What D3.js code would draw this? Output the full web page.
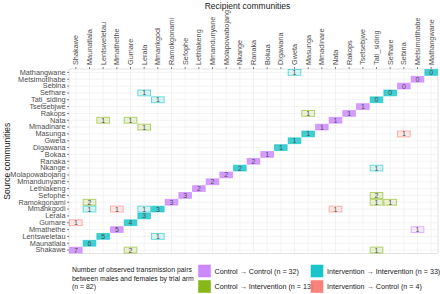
<!DOCTYPE html>
<html>
<head>
<meta charset="utf-8">
<script src="https://cdn.jsdelivr.net/npm/d3@7"></script>
<style>
  body { margin: 0; background: #fff; }
  text { font-family: "Liberation Sans", Arial, sans-serif; }
</style>
</head>
<body>
<script>
// communities in the order of the recipient axis (left to right); source axis is bottom to top
const communities = ['Shakawe', 'Maunatlala', 'Lentsweletau', 'Mmathethe', 'Gumare', 'Lerala',
    'Mmankgodi', 'Ramokgonami', 'Sefophe', 'Lethlakeng', 'Mmandunyane', 'Molapowabojang',
    'Nkange', 'Ranaka', 'Bokaa', 'Digawana', 'Gweta', 'Masunga', 'Mmadinare', 'Nata', 'Rakops',
    'Tsetsebjwe', 'Tati_siding', 'Sefhare', 'Sebina', 'Metsimotlhabe', 'Mathangwane'];

// [source, recipient, count, arm]
const pairs = [
    ['Shakawe', 'Shakawe', 7, 'CC'], ['Maunatlala', 'Maunatlala', 6, 'II'],
    ['Lentsweletau', 'Lentsweletau', 5, 'II'], ['Mmathethe', 'Mmathethe', 5, 'CC'],
    ['Gumare', 'Gumare', 4, 'II'], ['Lerala', 'Lerala', 3, 'II'],
    ['Mmankgodi', 'Mmankgodi', 3, 'II'], ['Ramokgonami', 'Ramokgonami', 3, 'CC'],
    ['Sefophe', 'Sefophe', 3, 'CC'], ['Lethlakeng', 'Lethlakeng', 2, 'CC'],
    ['Mmandunyane', 'Mmandunyane', 2, 'CC'], ['Molapowabojang', 'Molapowabojang', 2, 'CC'],
    ['Nkange', 'Nkange', 2, 'II'], ['Ranaka', 'Ranaka', 2, 'CC'],
    ['Bokaa', 'Bokaa', 1, 'CC'], ['Digawana', 'Digawana', 1, 'II'],
    ['Gweta', 'Gweta', 1, 'II'], ['Masunga', 'Masunga', 1, 'II'],
    ['Mmadinare', 'Mmadinare', 1, 'CC'], ['Nata', 'Nata', 1, 'CC'],
    ['Rakops', 'Rakops', 1, 'CC'], ['Tsetsebjwe', 'Tsetsebjwe', 1, 'CC'],
    ['Tati_siding', 'Tati_siding', 0, 'II'], ['Sefhare', 'Sefhare', 0, 'II'],
    ['Sebina', 'Sebina', 0, 'CC'], ['Metsimotlhabe', 'Metsimotlhabe', 0, 'CC'],
    ['Mathangwane', 'Mathangwane', 0, 'II'],
    // between communities
    ['Mathangwane', 'Gweta', 1, 'II'], ['Sefhare', 'Lerala', 1, 'II'],
    ['Tati_siding', 'Mmankgodi', 1, 'II'], ['Nkange', 'Tati_siding', 1, 'II'],
    ['Mmankgodi', 'Maunatlala', 1, 'II'], ['Mmankgodi', 'Lerala', 1, 'II'],
    ['Lentsweletau', 'Mmankgodi', 1, 'II'],
    ['Mmathethe', 'Metsimotlhabe', 1, 'CC'],
    ['Nata', 'Lentsweletau', 1, 'CI'], ['Nata', 'Gumare', 1, 'CI'],
    ['Mmadinare', 'Lerala', 1, 'CI'], ['Rakops', 'Masunga', 1, 'CI'],
    ['Ramokgonami', 'Maunatlala', 2, 'CI'], ['Sefophe', 'Tati_siding', 2, 'CI'],
    ['Ramokgonami', 'Tati_siding', 1, 'CI'], ['Ramokgonami', 'Sefhare', 1, 'CI'],
    ['Shakawe', 'Gumare', 2, 'CI'], ['Shakawe', 'Tati_siding', 1, 'CI'],
    ['Gumare', 'Shakawe', 1, 'IC'], ['Mmankgodi', 'Mmathethe', 1, 'IC'],
    ['Mmankgodi', 'Nata', 1, 'IC'], ['Masunga', 'Sebina', 1, 'IC']
];

const arms = ['CC', 'II', 'CI', 'IC'];
const armLabels = ['Control \u2192 Control (n = 32)', 'Intervention \u2192 Intervention (n = 33)',
    'Control \u2192 Intervention (n = 13)', 'Intervention \u2192 Control (n = 4)'];
const armColors = ['#C77CFF', '#00BFC4', '#7CAE00', '#F8766D'];

const W = 440, H = 294;
const plot = { left: 69, right: 438, top: 69, bottom: 253.5 };

const svg = d3.select('body').append('svg')
    .attr('width', W)
    .attr('height', H);

const x = d3.scaleBand().domain(communities).range([plot.left, plot.right]);
const y = d3.scaleBand().domain(communities).range([plot.bottom, plot.top]);
const color = d3.scaleOrdinal().domain(arms).range(armColors);

// grid
const grid = svg.append('g');
grid.selectAll('line.v').data(communities).join('line')
    .attr('x1', d => x(d) + x.bandwidth() / 2).attr('x2', d => x(d) + x.bandwidth() / 2)
    .attr('y1', plot.top).attr('y2', plot.bottom)
    .attr('stroke', '#ebebeb').attr('stroke-width', 0.6);
grid.selectAll('line.h').data(communities).join('line')
    .attr('y1', d => y(d) + y.bandwidth() / 2).attr('y2', d => y(d) + y.bandwidth() / 2)
    .attr('x1', plot.left).attr('x2', plot.right)
    .attr('stroke', '#ebebeb').attr('stroke-width', 0.6);

svg.append('rect')
    .attr('x', plot.left).attr('y', plot.top)
    .attr('width', plot.right - plot.left).attr('height', plot.bottom - plot.top)
    .attr('fill', 'none').attr('stroke', '#d0d0d0').attr('stroke-width', 0.6);

// tiles
const cells = svg.append('g').selectAll('g').data(pairs).join('g');
cells.append('rect')
    .attr('x', d => x(d[1]) + 0.5)
    .attr('y', d => y(d[0]) + 0.5)
    .attr('width', x.bandwidth() - 1)
    .attr('height', y.bandwidth() - 1)
    .attr('fill', d => color(d[3]))
    .attr('fill-opacity', d => d[0] === d[1] ? 0.75 : 0.15)
    .attr('stroke', d => color(d[3]))
    .attr('stroke-opacity', 0.55)
    .attr('stroke-width', 1);
cells.append('text')
    .attr('x', d => x(d[1]) + x.bandwidth() / 2)
    .attr('y', d => y(d[0]) + y.bandwidth() / 2)
    .attr('dy', '0.36em')
    .attr('text-anchor', 'middle')
    .attr('font-size', 7)
    .attr('fill', '#4d4d4d')
    .text(d => d[2]);

// axes
const yAxis = svg.append('g')
    .attr('transform', `translate(${plot.left},0)`)
    .call(d3.axisLeft(y).tickSize(2).tickPadding(1.5));
const xAxis = svg.append('g')
    .attr('transform', `translate(0,${plot.top})`)
    .call(d3.axisTop(x).tickSize(2).tickPadding(1.5));
[xAxis, yAxis].forEach(a => {
    a.select('.domain').remove();
    a.selectAll('.tick line').attr('stroke', '#333').attr('stroke-width', 0.6);
    a.selectAll('.tick text').attr('fill', '#4d4d4d').attr('font-size', 7.3)
        .attr('font-family', '"Liberation Sans", Arial, sans-serif');
});
xAxis.selectAll('.tick text')
    .attr('transform', 'rotate(-90)')
    .attr('text-anchor', 'start')
    .attr('x', 4).attr('y', 0).attr('dy', '0.35em');

svg.append('text')
    .attr('x', (plot.left + plot.right) / 2 - 6).attr('y', 9)
    .attr('text-anchor', 'middle').attr('font-size', 8.5).attr('fill', '#1a1a1a')
    .text('Recipient communities');
svg.append('text')
    .attr('transform', `translate(10,${(plot.top + plot.bottom) / 2}) rotate(-90)`)
    .attr('text-anchor', 'middle').attr('font-size', 8.5).attr('fill', '#1a1a1a')
    .text('Source communities');

// legend
const legendTitle = ['Number of observed transmission pairs',
    'between males and females by trial arm', '(n = 82)'];
svg.append('text')
    .attr('x', 72).attr('y', 272).attr('font-size', 6.9).attr('fill', '#1a1a1a')
    .selectAll('tspan').data(legendTitle).join('tspan')
    .attr('x', 72).attr('dy', (d, i) => i === 0 ? 0 : 8.6)
    .text(d => d);

const legend = svg.append('g').selectAll('g').data(arms).join('g')
    .attr('transform', (d, i) => `translate(${i % 2 === 0 ? 198.5 : 311},${i < 2 ? 265 : 280.5})`);
legend.append('rect')
    .attr('width', 12).attr('height', 12)
    .attr('fill', d => color(d)).attr('fill-opacity', 0.9)
    .attr('stroke', d => color(d)).attr('stroke-opacity', 0.5).attr('stroke-width', 1);
legend.append('text')
    .attr('x', 16).attr('y', 6).attr('dy', '0.35em')
    .attr('font-size', 7.2).attr('fill', '#1a1a1a')
    .text((d, i) => armLabels[i]);
</script>
</body>
</html>
